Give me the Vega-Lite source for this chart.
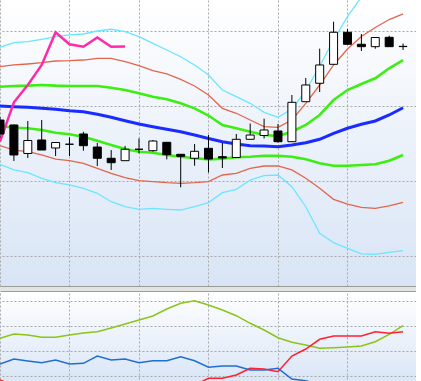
{
"$schema": "https://vega.github.io/schema/vega-lite/v6.json",
"background": "#e3e3e3",
"padding": 0,
"spacing": 5,
"bounds": "flush",
"config": {"view": {"stroke": null}, "axis": {"labels": false, "ticks": false, "title": null, "grid": true, "gridColor": "#a9a9a9", "gridDash": [2, 2], "gridWidth": 1, "domain": true, "domainColor": "#9c9c9c", "domainWidth": 1}},
"datasets": {
"px": [
{"i":0,"o":118.13,"h":118.53,"l":115.73,"c":116.27,"ma":120.0,"gu":122.57,"gl":117.33,"ru":125.24,"rl":114.71,"cu":127.83,"cl":112.23,"ck":115.24},
{"i":1,"o":117.47,"h":117.53,"l":112.67,"c":113.47,"ma":119.91,"gu":122.67,"gl":117.11,"ru":125.47,"rl":114.13,"cu":128.44,"cl":111.47,"ck":120.49},
{"i":2,"o":113.67,"h":118.0,"l":113.07,"c":115.4,"ma":119.83,"gu":122.71,"gl":117.03,"ru":125.6,"rl":113.91,"cu":128.57,"cl":111.11,"ck":122.8},
{"i":3,"o":115.47,"h":118.13,"l":114.13,"c":114.13,"ma":119.69,"gu":122.8,"gl":116.8,"ru":125.77,"rl":113.47,"cu":128.89,"cl":110.36,"ck":125.47},
{"i":4,"o":114.4,"h":115.13,"l":113.33,"c":115.13,"ma":119.56,"gu":122.71,"gl":116.44,"ru":126.0,"rl":112.93,"cu":129.24,"cl":109.77,"ck":129.83},
{"i":5,"o":114.9,"h":115.8,"l":113.33,"c":114.9,"ma":119.37,"gu":122.67,"gl":116.23,"ru":126.04,"rl":112.71,"cu":129.47,"cl":109.47,"ck":128.23},
{"i":6,"o":116.27,"h":116.57,"l":114.04,"c":114.71,"ma":119.24,"gu":122.67,"gl":115.91,"ru":126.13,"rl":112.36,"cu":129.6,"cl":109.03,"ck":127.91},
{"i":7,"o":114.53,"h":115.07,"l":112.0,"c":113.03,"ma":118.89,"gu":122.67,"gl":115.37,"ru":126.36,"rl":111.69,"cu":130.0,"cl":108.36,"ck":129.13},
{"i":8,"o":113.03,"h":114.13,"l":111.47,"c":112.44,"ma":118.49,"gu":122.44,"gl":114.8,"ru":126.36,"rl":111.03,"cu":130.23,"cl":107.24,"ck":127.91},
{"i":9,"o":112.71,"h":114.67,"l":112.71,"c":114.23,"ma":118.04,"gu":122.13,"gl":114.27,"ru":125.91,"rl":110.44,"cu":129.91,"cl":106.57,"ck":127.92},
{"i":10,"o":114.23,"h":115.69,"l":113.69,"c":114.23,"ma":117.6,"gu":121.69,"gl":113.91,"ru":125.37,"rl":110.04,"cu":129.24,"cl":106.23},
{"i":11,"o":114.04,"h":115.47,"l":113.91,"c":115.33,"ma":117.24,"gu":121.24,"gl":113.77,"ru":124.71,"rl":109.91,"cu":128.36,"cl":106.36},
{"i":12,"o":115.16,"h":115.16,"l":112.89,"c":113.51,"ma":116.89,"gu":120.89,"gl":113.47,"ru":124.27,"rl":109.77,"cu":127.47,"cl":106.23},
{"i":13,"o":113.56,"h":113.6,"l":109.16,"c":113.29,"ma":116.57,"gu":120.36,"gl":113.24,"ru":123.56,"rl":109.69,"cu":126.57,"cl":106.13},
{"i":14,"o":113.03,"h":114.93,"l":112.04,"c":113.96,"ma":116.13,"gu":119.69,"gl":113.03,"ru":122.67,"rl":109.77,"cu":125.47,"cl":106.57},
{"i":15,"o":114.36,"h":116.13,"l":111.13,"c":112.93,"ma":115.67,"gu":118.73,"gl":112.89,"ru":121.47,"rl":109.91,"cu":124.13,"cl":107.11},
{"i":16,"o":113.24,"h":115.07,"l":111.73,"c":113.07,"ma":115.24,"gu":117.47,"gl":112.97,"ru":119.69,"rl":110.8,"cu":122.13,"cl":108.44},
{"i":17,"o":113.13,"h":116.27,"l":113.13,"c":115.56,"ma":114.93,"gu":117.03,"gl":113.16,"ru":119.03,"rl":111.03,"cu":121.24,"cl":108.89},
{"i":18,"o":115.56,"h":117.67,"l":115.56,"c":116.13,"ma":114.71,"gu":116.57,"gl":113.24,"ru":118.13,"rl":111.69,"cu":120.36,"cl":110.13},
{"i":19,"o":116.07,"h":118.31,"l":115.67,"c":116.8,"ma":114.67,"gu":116.13,"gl":113.37,"ru":117.24,"rl":112.0,"cu":119.16,"cl":110.71},
{"i":20,"o":116.67,"h":117.6,"l":115.11,"c":115.24,"ma":114.57,"gu":116.0,"gl":113.37,"ru":117.16,"rl":112.0,"cu":118.49,"cl":110.8},
{"i":21,"o":115.24,"h":121.47,"l":115.24,"c":120.49,"ma":114.8,"gu":116.57,"gl":113.24,"ru":118.13,"rl":111.47,"cu":119.6,"cl":109.24},
{"i":22,"o":120.57,"h":123.73,"l":120.57,"c":122.8,"ma":115.11,"gu":117.47,"gl":112.89,"ru":120.36,"rl":110.36,"cu":122.0,"cl":106.57},
{"i":23,"o":123.03,"h":127.64,"l":121.87,"c":125.47,"ma":115.56,"gu":118.8,"gl":112.36,"ru":122.8,"rl":109.03,"cu":125.33,"cl":103.03},
{"i":24,"o":125.56,"h":131.24,"l":125.56,"c":129.83,"ma":116.36,"gu":120.8,"gl":112.04,"ru":125.47,"rl":107.56,"cu":128.8,"cl":101.77},
{"i":25,"o":129.83,"h":130.27,"l":128.23,"c":128.23,"ma":117.03,"gu":122.13,"gl":112.04,"ru":127.6,"rl":106.93,"cu":131.91,"cl":101.03},
{"i":26,"o":128.23,"h":129.6,"l":127.33,"c":127.91,"ma":117.56,"gu":122.93,"gl":112.13,"ru":129.27,"rl":106.49,"cu":134.53,"cl":100.27},
{"i":27,"o":127.91,"h":129.13,"l":127.64,"c":129.13,"ma":118.0,"gu":123.69,"gl":112.23,"ru":130.47,"rl":106.36,"cu":136.53,"cl":100.23},
{"i":28,"o":129.16,"h":129.37,"l":127.91,"c":127.91,"ma":118.8,"gu":125.03,"gl":112.71,"ru":131.53,"rl":106.67,"cu":137.87,"cl":100.49},
{"i":29,"o":127.95,"h":128.33,"l":127.47,"c":127.92,"ma":119.77,"gu":126.13,"gl":113.47,"ru":132.27,"rl":107.16,"cu":138.93,"cl":100.71}
],
"osc": [
{"i":0,"g":50.16,"r":16.8,"b":29.6},
{"i":1,"g":53.6,"r":12.5,"b":33.6},
{"i":2,"g":52.8,"r":11,"b":32.0},
{"i":3,"g":50.96,"r":10,"b":30.64},
{"i":4,"g":50.96,"r":9.5,"b":32.8},
{"i":5,"g":52.8,"r":9,"b":29.6},
{"i":6,"g":54.4,"r":9,"b":30.16},
{"i":7,"g":55.44,"r":9.5,"b":36.0},
{"i":8,"g":58.4,"r":10,"b":32.8},
{"i":9,"g":61.6,"r":10,"b":33.6},
{"i":10,"g":64.8,"r":10.5,"b":30.64},
{"i":11,"g":68.0,"r":11,"b":32.24},
{"i":12,"g":73.6,"r":11,"b":32.24},
{"i":13,"g":78.16,"r":11.5,"b":35.44},
{"i":14,"g":80.24,"r":12.5,"b":32.24},
{"i":15,"g":76.8,"r":18.16,"b":26.96},
{"i":16,"g":72.8,"r":18.16,"b":28.0},
{"i":17,"g":68.24,"r":20.8,"b":28.0},
{"i":18,"g":62.16,"r":26.16,"b":24.8},
{"i":19,"g":56.8,"r":25.6,"b":24.8},
{"i":20,"g":50.64,"r":23.44,"b":26.16},
{"i":21,"g":46.96,"r":36.0,"b":17.6},
{"i":22,"g":44.8,"r":41.6,"b":16.24},
{"i":23,"g":42.16,"r":49.36,"b":12.8},
{"i":24,"g":42.64,"r":52.0,"b":10.4},
{"i":25,"g":43.2,"r":52.0,"b":12},
{"i":26,"g":44.0,"r":52.0,"b":9.6},
{"i":27,"g":47.44,"r":55.44,"b":11.2},
{"i":28,"g":53.36,"r":54.16,"b":8.8},
{"i":29,"g":60.24,"r":55.44,"b":10.4}
]
},
"vconcat": [
{
"width": 416, "height": 286,
"view": {"fill": {"gradient": "linear", "x1": 0, "y1": 0, "x2": 0, "y2": 1, "stops": [{"offset": 0, "color": "#ffffff"}, {"offset": 1, "color": "#d8e4f5"}]}, "stroke": null},
"data": {"name": "px"},
"encoding": {"x": {"field": "i", "type": "quantitative", "scale": {"domain": [0, 29.93], "nice": false, "zero": false, "padding": 0}, "axis": {"orient": "bottom", "values": [0, 5, 10, 15, 20, 25]}, "title": null}},
"layer": [
{"transform": [{"fold": ["cu", "cl"], "as": ["s", "v"]}],
 "mark": {"type": "line", "clip": true, "color": "#6ae6ff", "strokeWidth": 1.3},
 "encoding": {"y": {"field": "v", "type": "quantitative", "scale": {"domain": [96, 134.133], "nice": false, "zero": false, "padding": 0}, "axis": {"orient": "right", "values": [100, 110, 120, 130]}, "title": null}, "detail": {"field": "s"}}},
{"transform": [{"fold": ["ru", "rl"], "as": ["s", "v"]}],
 "mark": {"type": "line", "clip": true, "color": "#e2664c", "strokeWidth": 1.3},
 "encoding": {"y": {"field": "v", "type": "quantitative", "scale": {"domain": [96, 134.133], "nice": false, "zero": false, "padding": 0}, "axis": {"orient": "right", "values": [100, 110, 120, 130]}, "title": null}, "detail": {"field": "s"}}},
{"transform": [{"fold": ["gu", "gl"], "as": ["s", "v"]}],
 "mark": {"type": "line", "clip": true, "color": "#3cee12", "strokeWidth": 2.6},
 "encoding": {"y": {"field": "v", "type": "quantitative", "scale": {"domain": [96, 134.133], "nice": false, "zero": false, "padding": 0}, "axis": {"orient": "right", "values": [100, 110, 120, 130]}, "title": null}, "detail": {"field": "s"}}},
{"mark": {"type": "line", "clip": true, "color": "#1a2bff", "strokeWidth": 3},
 "encoding": {"y": {"field": "ma", "type": "quantitative", "scale": {"domain": [96, 134.133], "nice": false, "zero": false, "padding": 0}, "axis": {"orient": "right", "values": [100, 110, 120, 130]}, "title": null}}},
{"transform": [{"filter": {"field": "ck", "valid": true}}],
 "mark": {"type": "line", "clip": true, "color": "#ff2aa8", "strokeWidth": 2.5},
 "encoding": {"y": {"field": "ck", "type": "quantitative", "scale": {"domain": [96, 134.133], "nice": false, "zero": false, "padding": 0}, "axis": {"orient": "right", "values": [100, 110, 120, 130]}, "title": null}}},
{"mark": {"type": "rule", "clip": true, "color": "#000000", "strokeWidth": 1},
 "encoding": {"y": {"field": "l", "type": "quantitative", "scale": {"domain": [96, 134.133], "nice": false, "zero": false, "padding": 0}, "axis": {"orient": "right", "values": [100, 110, 120, 130]}, "title": null}, "y2": {"field": "h"}}},
{"mark": {"type": "bar", "clip": true, "size": 8, "stroke": "#000000", "strokeWidth": 1},
 "encoding": {"y": {"field": "o", "type": "quantitative", "scale": {"domain": [96, 134.133], "nice": false, "zero": false, "padding": 0}, "axis": {"orient": "right", "values": [100, 110, 120, 130]}, "title": null}, "y2": {"field": "c"},
  "fill": {"condition": {"test": "datum.c < datum.o", "value": "#000000"}, "value": "#ffffff"}}}
]
},
{
"width": 416, "height": 100,
"view": {"fill": {"gradient": "linear", "x1": 0, "y1": 0, "x2": 0, "y2": 1, "stops": [{"offset": 0, "color": "#ffffff"}, {"offset": 1, "color": "#d6e3f5"}]}, "stroke": null},
"data": {"name": "osc"},
"transform": [{"fold": ["g", "r", "b"], "as": ["s", "v"]}],
"mark": {"type": "line", "clip": true, "strokeWidth": 1.5},
"encoding": {
 "x": {"field": "i", "type": "quantitative", "scale": {"domain": [0, 29.93], "nice": false, "zero": false, "padding": 0}, "axis": {"orient": "top", "values": [0, 5, 10, 15, 20, 25]}, "title": null},
 "y": {"field": "v", "type": "quantitative", "scale": {"domain": [8, 88], "nice": false, "zero": false, "padding": 0}, "axis": {"orient": "right", "values": [20, 40, 60, 80]}, "title": null},
 "color": {"field": "s", "type": "nominal", "scale": {"domain": ["g", "r", "b"], "range": ["#8cc418", "#ff2030", "#1f6fd2"]}, "legend": null}
}
}
]
}
